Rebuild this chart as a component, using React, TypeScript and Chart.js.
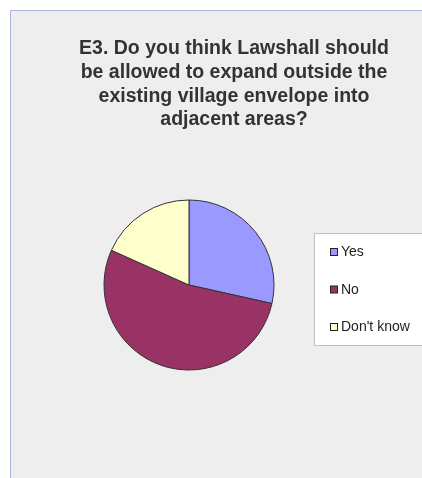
import React, { useEffect, useRef } from "react";
import { Chart, registerables } from "chart.js";

Chart.register(...registerables);

const titleLines = [
  "E3. Do you think Lawshall should",
  "be allowed to expand outside the",
  "existing village envelope into",
  "adjacent areas?",
];
const categories = ["Yes", "No", "Don't know"];
const values = [28.5, 53.2, 18.3];
const colors = ["#9999FF", "#993366", "#FFFFCC"];

const framePlugin = {
  id: "frame",
  beforeDraw(chart: any) {
    const ctx = chart.ctx;
    const w = chart.width;
    const h = chart.height;
    ctx.save();
    ctx.fillStyle = "#FFFFFF";
    ctx.fillRect(0, 0, w, h);
    ctx.fillStyle = "#EEEEEE";
    ctx.fillRect(10, 10, w - 10, h - 10);
    ctx.strokeStyle = "#A9B8D4";
    ctx.lineWidth = 1;
    ctx.beginPath();
    ctx.moveTo(10.5, h);
    ctx.lineTo(10.5, 10.5);
    ctx.lineTo(w, 10.5);
    ctx.stroke();
    ctx.restore();
  },
  afterDraw(chart: any) {
    const ctx = chart.ctx;
    ctx.save();
    // title
    ctx.fillStyle = "#333333";
    ctx.font = "bold 19.5px 'Liberation Sans', Arial, sans-serif";
    ctx.textAlign = "center";
    ctx.textBaseline = "middle";
    titleLines.forEach((line, i) => {
      ctx.fillText(line, 234, 49 + i * 23.7);
    });
    // legend
    const bx = 314.5;
    const by = 233.5;
    ctx.fillStyle = "#FFFFFF";
    ctx.fillRect(bx, by, chart.width - bx + 5, 112);
    ctx.strokeStyle = "#C0C0C0";
    ctx.lineWidth = 1;
    ctx.strokeRect(bx, by, chart.width - bx + 5, 112);
    const ds = chart.data.datasets[0];
    (chart.data.labels as string[]).forEach((label, i) => {
      const y = 252.5 + i * 37.5;
      ctx.fillStyle = ds.backgroundColor[i];
      ctx.fillRect(330.5, y - 4, 7, 7);
      ctx.strokeStyle = "#222222";
      ctx.strokeRect(330.5, y - 4, 7, 7);
      ctx.fillStyle = "#222222";
      ctx.font = "14px 'Liberation Sans', Arial, sans-serif";
      ctx.textAlign = "left";
      ctx.textBaseline = "middle";
      ctx.fillText(label, 341, y);
    });
    ctx.restore();
  },
};

export default function App() {
  const ref = useRef<HTMLCanvasElement>(null);
  useEffect(() => {
    if (!ref.current) return;
    const chart = new Chart(ref.current, {
      type: "pie",
      data: {
        labels: categories,
        datasets: [
          {
            data: values,
            backgroundColor: colors,
            borderColor: "#333333",
            borderWidth: 1,
            hoverBorderWidth: 1,
            hoverOffset: 0,
            offset: 0,
          },
        ],
      },
      options: {
        responsive: false,
        animation: false,
        events: [],
        radius: 85,
        layout: { padding: { left: 104, right: 148, top: 200, bottom: 108 } },
        plugins: {
          legend: { display: false },
          title: { display: false },
          tooltip: { enabled: false },
        },
      } as any,
      plugins: [framePlugin],
    });
    return () => chart.destroy();
  }, []);
  return (
    <div style={{ position: "absolute", left: 0, top: 0, width: 422, height: 478 }}>
      <canvas ref={ref} width={422} height={478} style={{ display: "block" }} />
    </div>
  );
}
